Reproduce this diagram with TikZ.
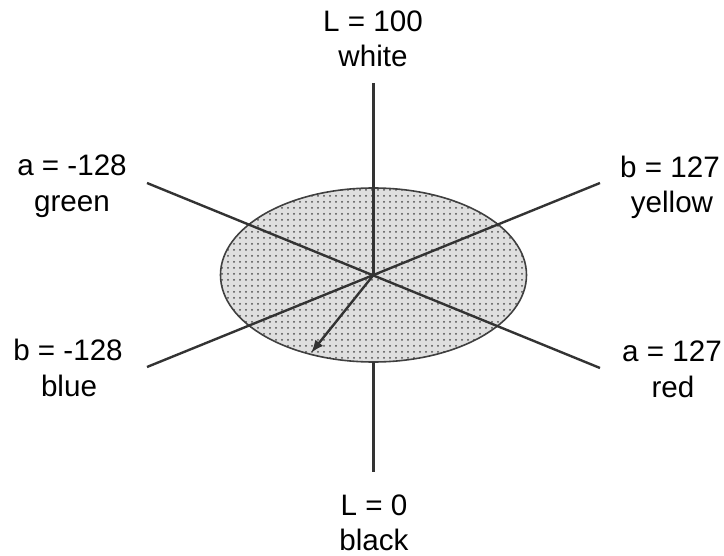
\documentclass[tikz,border=0pt]{standalone}
\usepackage{fontspec}
\setmainfont{Liberation Sans}
\usetikzlibrary{patterns,arrows.meta}
\begin{document}
\begin{tikzpicture}[x=0.5pt,y=-0.5pt,>={Latex[length=6.5pt,width=5pt]},
  axis/.style={draw=black!80,line width=1.2pt},
  lab/.style={anchor=base,inner sep=0pt,font=\fontsize{14.8}{17}\selectfont}]
\useasboundingbox (0,0) rectangle (724,556);
\coordinate (o) at (373.5,275);
\coordinate (top) at (373.5,83);
\coordinate (bot) at (373.5,472);
\coordinate (low) at (373.5,362);
\coordinate (amin) at (147,183);
\coordinate (amax) at (600,368);
\coordinate (bmin) at (147,367);
\coordinate (bmax) at (600,183);
\coordinate (tip) at (311,353);

% disc
\fill[gray!25] (o) ellipse [x radius=153,y radius=87];
\fill[pattern=dots,pattern color=black!70] (o) ellipse [x radius=153,y radius=87];
\draw[black!75,line width=0.8pt] (o) ellipse [x radius=153,y radius=87];

% axes
\draw[axis] (top) -- (o);
\draw[axis] (low) -- (bot);
\draw[axis] (amin) -- (amax);
\draw[axis] (bmin) -- (bmax);
\draw[axis,->] (o) -- (tip);

% labels
\node[lab] (lhi) at (373,32) {L = 100};
\node[lab] (white) at (373,67) {white};
\node[lab] (alo) at (72,176) {a = -128};
\node[lab] (green) at (72,212) {green};
\node[lab] (bhi) at (670,177) {b = 127};
\node[lab] (yellow) at (672,213) {yellow};
\node[lab] (blo) at (68,360) {b = -128};
\node[lab] (blue) at (69,396) {blue};
\node[lab] (ahi) at (672,362) {a = 127};
\node[lab] (red) at (673,397) {red};
\node[lab] (llo) at (374,515) {L = 0};
\node[lab] (black) at (374,550) {black};
\end{tikzpicture}
\end{document}
